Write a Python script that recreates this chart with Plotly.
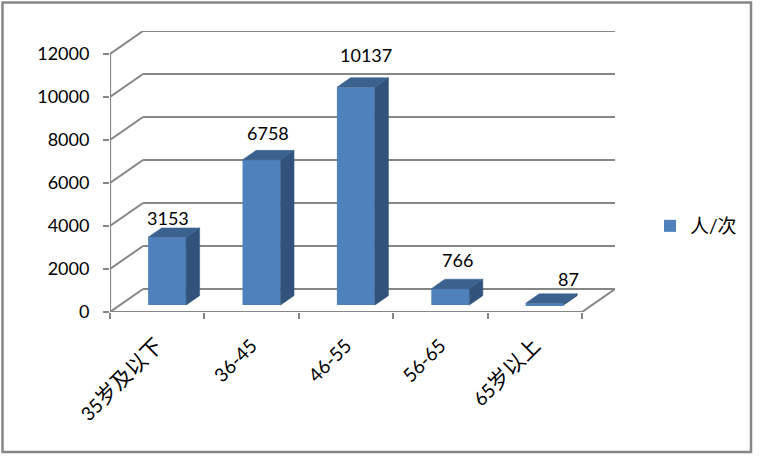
import re
import plotly.graph_objects as go

categories = ["35岁及以下", "36-45", "46-55", "56-65", "65岁以上"]
series_name = "人/次"
values = [3153, 6758, 10137, 766, 87]
y_ticks = [0, 2000, 4000, 6000, 8000, 10000, 12000]
y_tick_text = ["0", "2000", "4000", "6000", "8000", "10000", "12000"]

# label nudges in pixels (hand-placed labels in the original chart)
label_dx = [1, 6, 10, 7, 24]
label_dy = [19, 27, 32, 29, 24]

# projection of the pseudo-3D box, in axis units
PX_X = 94.4
PX_Y = 0.0215
DEPTH_X = 33 / PX_X
DEPTH_Y = 23 / PX_Y
F0, F1 = 0.30, 0.71
BAR_W = 38 / PX_X
OFFSET = F0 * DEPTH_X

GRID = "#868686"
FRONT = "#4F81BD"
SIDE = "#30527B"
TOP = "#3B618F"
FONT = "Lato, 'Noto Sans CJK SC', sans-serif"


def tick_markup(label):
    # the original sets CJK glyphs larger than its digits
    return re.sub(r"([\u4e00-\u9fff]+)", r'<span style="font-size:21px">\1</span>', label)


fig = go.Figure()

x_c = [i + OFFSET for i in range(len(values))]
base = F0 * DEPTH_Y
dx = (F1 - F0) * DEPTH_X
dy = (F1 - F0) * DEPTH_Y

fig.add_trace(go.Bar(
    x=x_c, y=values, base=base, width=BAR_W, name=series_name,
    marker=dict(color=FRONT, line=dict(width=0)), hoverinfo="skip",
    showlegend=True,
))

for xc, v in zip(x_c, values):
    xl, xr = xc - BAR_W / 2, xc + BAR_W / 2
    t = base + v
    fig.add_trace(go.Scatter(
        x=[xr, xr + dx, xr + dx, xr, xr], y=[base, base + dy, t + dy, t, base],
        fill="toself", fillcolor=SIDE, mode="lines", line=dict(color=SIDE, width=0.5),
        showlegend=False, hoverinfo="skip"))
    fig.add_trace(go.Scatter(
        x=[xl, xr, xr + dx, xl + dx, xl], y=[t, t, t + dy, t + dy, t],
        fill="toself", fillcolor=TOP, mode="lines", line=dict(color=TOP, width=0.5),
        showlegend=False, hoverinfo="skip"))

shapes = []
x0, x1 = -0.5, len(values) - 0.5
line = dict(color=GRID, width=2)
for v in y_ticks:
    shapes.append(dict(type="line", xref="x", yref="y", layer="below", x0=x0, y0=v,
                       x1=x0 + DEPTH_X, y1=v + DEPTH_Y, line=line))
    shapes.append(dict(type="line", xref="x", yref="y", layer="below", x0=x0 + DEPTH_X, y0=v + DEPTH_Y,
                       x1=x1 + DEPTH_X, y1=v + DEPTH_Y, line=line))
shapes.append(dict(type="line", xref="x", yref="y", layer="below", x0=x1, y0=0,
                   x1=x1 + DEPTH_X, y1=DEPTH_Y, line=line))
shapes.append(dict(type="line", xref="x", yref="y", layer="below", x0=x0, y0=0,
                   x1=x1, y1=0, line=dict(color=GRID, width=2.2)))
shapes.append(dict(type="line", xref="x", yref="y", layer="below", x0=x0, y0=0,
                   x1=x0, y1=y_ticks[-1], line=dict(color=GRID, width=2.2)))
shapes.append(dict(type="rect", xref="paper", yref="paper", layer="below",
                   x0=(2.5 - 110) / 505, x1=(751 - 110) / 505,
                   y0=(312 - 452) / 281, y1=(312 - 2.5) / 281,
                   line=dict(color=GRID, width=2.5), fillcolor="white"))

annotations = [
    dict(x=xc, y=base + v, xref="x", yref="y", text=str(v), showarrow=False,
         xshift=ldx, yshift=ldy, font=dict(size=18, color="black", family=FONT))
    for xc, v, ldx, ldy in zip(x_c, values, label_dx, label_dy)
]

fig.update_layout(
    width=762, height=463,
    margin=dict(l=110, r=147, t=31, b=151, pad=0),
    paper_bgcolor="white", plot_bgcolor="rgba(0,0,0,0)",
    shapes=shapes, annotations=annotations,
    font=dict(family=FONT, size=18, color="black"),
    legend=dict(x=(650 - 110) / 505, y=(312 - 226) / 281, xanchor="left", yanchor="middle",
                bgcolor="rgba(0,0,0,0)", font=dict(size=19)),
    xaxis=dict(range=[x0, x1 + DEPTH_X], tickmode="array", tickvals=list(range(len(values))),
               ticktext=[tick_markup(c) for c in categories], tickangle=-45, ticks="",
               showgrid=False, zeroline=False,
               showline=False, tickfont=dict(size=19), ticklabelstandoff=18,
               minor=dict(tickmode="array", tickvals=[x0 + i for i in range(len(values) + 1)],
                          ticks="outside", ticklen=6, tickwidth=2, tickcolor=GRID, showgrid=False)),
    yaxis=dict(range=[0, 281 / PX_Y], tickmode="array", tickvals=y_ticks, ticktext=y_tick_text,
               ticks="outside", ticklen=6, tickwidth=2, tickcolor=GRID, showgrid=False,
               zeroline=False, showline=False, tickfont=dict(size=18), ticklabelstandoff=10),
)
fig.write_html("out.html", config={"displayModeBar": False},
               post_script="document.body.style.margin='0';")
